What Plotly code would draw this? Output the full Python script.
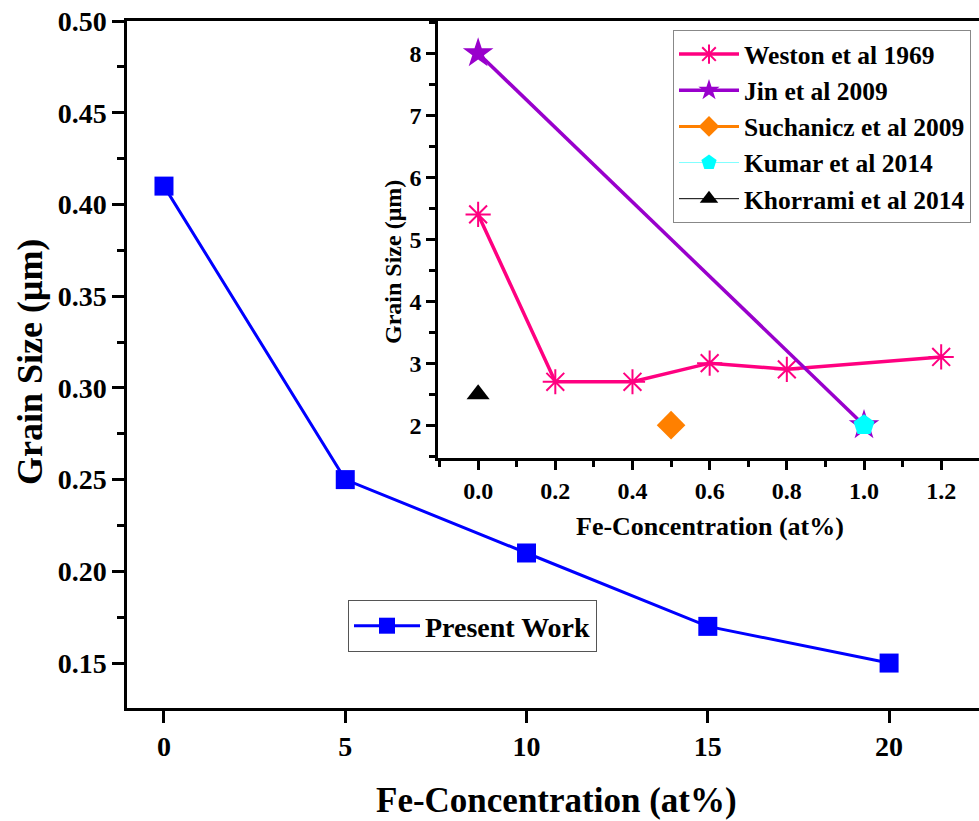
import plotly.graph_objects as go

# Main data
present_x = [0, 5, 10, 15, 20]
present_y = [0.41, 0.25, 0.21, 0.17, 0.15]

# Inset data
weston_x = [0.0, 0.2, 0.4, 0.6, 0.8, 1.2]
weston_y = [5.4, 2.7, 2.7, 3.0, 2.9, 3.1]
jin_x = [0.0, 1.0]
jin_y = [8.0, 2.0]
such_x = [0.5]
such_y = [2.0]
kumar_x = [1.0]
kumar_y = [2.0]
khor_x = [0.0]
khor_y = [2.5]

W, H = 979, 821
FONT = "Liberation Serif"

def px(x):
    return x / W

def py(y):
    return (H - y) / H

fig = go.Figure()

fig.add_trace(go.Scatter(
    x=present_x, y=present_y, mode="lines+markers", name="<b>Present Work</b>",
    line=dict(color="#0000FF", width=3),
    marker=dict(symbol="square", size=19, color="#0000FF"),
    xaxis="x", yaxis="y", legend="legend"))

fig.add_trace(go.Scatter(
    x=weston_x, y=weston_y, mode="lines+markers", name="<b>Weston et al 1969</b>",
    line=dict(color="#FF0080", width=3.5),
    marker=dict(symbol="asterisk-open", size=21, color="#FF0080",
                line=dict(color="#FF0080", width=2)),
    xaxis="x2", yaxis="y2", legend="legend2"))

fig.add_trace(go.Scatter(
    x=jin_x, y=jin_y, mode="lines+markers", name="<b>Jin et al 2009</b>",
    line=dict(color="#9900CC", width=3.5),
    marker=dict(symbol="star", size=23, color="#9900CC"),
    xaxis="x2", yaxis="y2", legend="legend2"))

fig.add_trace(go.Scatter(
    x=such_x, y=such_y, mode="lines+markers", name="<b>Suchanicz et al 2009</b>",
    line=dict(color="#FF8000", width=3),
    marker=dict(symbol="diamond", size=22, color="#FF8000"),
    xaxis="x2", yaxis="y2", legend="legend2"))

fig.add_trace(go.Scatter(
    x=kumar_x, y=kumar_y, mode="lines+markers", name="<b>Kumar et al 2014</b>",
    line=dict(color="#80FFFF", width=1),
    marker=dict(symbol="pentagon", size=22, color="#00FFFF"),
    xaxis="x2", yaxis="y2", legend="legend2"))

fig.add_trace(go.Scatter(
    x=khor_x, y=khor_y, mode="lines+markers", name="<b>Khorrami et al 2014</b>",
    line=dict(color="#000000", width=1),
    marker=dict(symbol="triangle-up", size=20, color="#000000"),
    xaxis="x2", yaxis="y2", legend="legend2"))

axis_common = dict(showline=True, linecolor="black", linewidth=2.5, ticks="outside",
                   tickcolor="black", tickwidth=2.5, showgrid=False, zeroline=False,
                   automargin=False)

fig.update_layout(
    width=W, height=H,
    margin=dict(l=0, r=0, t=0, b=0, pad=0, autoexpand=False),
    paper_bgcolor="white", plot_bgcolor="white",
    font=dict(family=FONT, color="black"),
    xaxis=dict(**axis_common, domain=[px(127), 1.0], range=[-1.02, 22.48],
               tickvals=[0, 5, 10, 15, 20], ticklen=12, mirror=True,
               tickfont=dict(size=28, family=FONT, weight="bold"), anchor="y"),
    yaxis=dict(**axis_common, domain=[py(708), py(21)], range=[0.1255, 0.5],
               dtick=0.05, tick0=0.15, tickformat=".2f", ticklen=12,
               minor=dict(dtick=0.025, ticklen=7, tickwidth=2.5, tickcolor="black", ticks="outside"),
               tickfont=dict(size=28, family=FONT, weight="bold"), anchor="x"),
    xaxis2=dict(**axis_common, domain=[px(438), 1.0], range=[-0.104, 1.298],
                dtick=0.2, tick0=0, tickformat=".1f", ticklen=9, mirror=True,
                minor=dict(dtick=0.1, ticklen=6, tickwidth=2.5, tickcolor="black", ticks="outside"),
                tickfont=dict(size=24, family=FONT, weight="bold"), anchor="y2"),
    yaxis2=dict(**axis_common, domain=[py(458), py(21)], range=[1.47, 8.52],
                dtick=1, tick0=2, ticklen=9,
                minor=dict(dtick=0.5, ticklen=6, tickwidth=2.5, tickcolor="black", ticks="outside"),
                tickfont=dict(size=24, family=FONT, weight="bold"), anchor="x2"),
    legend=dict(x=px(348), y=py(600), xanchor="left", yanchor="top",
                bgcolor="white", bordercolor="#555555", borderwidth=1,
                font=dict(size=28, family=FONT, color="black"),
                itemwidth=66, tracegroupgap=0),
    legend2=dict(x=px(673), y=py(30), xanchor="left", yanchor="top",
                 bgcolor="white", bordercolor="#888888", borderwidth=1,
                 font=dict(size=25.5, family=FONT, color="black"),
                 itemwidth=60, tracegroupgap=0),
    showlegend=True,
    annotations=[
        dict(text="<b>Grain Size (μm)</b>", x=px(30), y=py(362), xref="paper", yref="paper",
             textangle=-90, showarrow=False, font=dict(size=36, family=FONT, color="black"),
             xanchor="center", yanchor="middle"),
        dict(text="<b>Fe-Concentration (at%)</b>", x=px(556), y=py(800), xref="paper", yref="paper",
             showarrow=False, font=dict(size=35, family=FONT, color="black"),
             xanchor="center", yanchor="middle"),
        dict(text="<b>Grain Size (μm)</b>", x=px(393), y=py(262), xref="paper", yref="paper",
             textangle=-90, showarrow=False, font=dict(size=24, family=FONT, color="black"),
             xanchor="center", yanchor="middle"),
        dict(text="<b>Fe-Concentration (at%)</b>", x=px(710), y=py(526), xref="paper", yref="paper",
             showarrow=False, font=dict(size=26, family=FONT, color="black"),
             xanchor="center", yanchor="middle"),
    ],
)

fig.write_html("out.html", config={"displayModeBar": False},
               post_script="document.body.style.margin='0px';document.body.style.padding='0px';")
